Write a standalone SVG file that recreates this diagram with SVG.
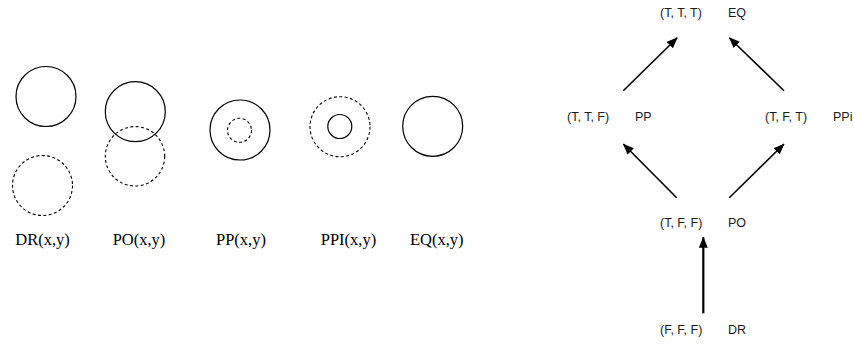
<svg xmlns="http://www.w3.org/2000/svg" width="854" height="345" viewBox="0 0 854 345">
  <style>
    .solid { fill: none; stroke: #000; stroke-width: 1.2; }
    .dash { fill: none; stroke: #000; stroke-width: 1.1; stroke-dasharray: 3 2.4; }
    .cap { font-family: "Liberation Serif", "Times New Roman", serif; font-size: 16.5px; fill: #000; text-anchor: middle; }
    .tup { font-family: "Liberation Sans", Arial, sans-serif; font-size: 12.5px; fill: #1a1a1a; }
    .edge { stroke: #000; stroke-width: 1.6; fill: none; marker-end: url(#head); }
    .edge.bold { stroke-width: 2.2; }
  </style>
  <defs>
    <marker id="head" markerUnits="userSpaceOnUse" markerWidth="11" markerHeight="9" refX="10.5" refY="4.5" orient="auto">
      <path d="M0,0 L11,4.5 L0,9 Z" fill="#000"/>
    </marker>
  </defs>

  <!-- Region relations: solid circle = x, dashed circle = y -->
  <g id="rel-dr">
    <circle class="solid" cx="46" cy="96.5" r="30"/>
    <circle class="dash" cx="42.5" cy="185.5" r="30"/>
    <text class="cap" x="42.5" y="245">DR(x,y)</text>
  </g>
  <g id="rel-po">
    <circle class="solid" cx="135.3" cy="111.7" r="30"/>
    <circle class="dash" cx="135" cy="156.3" r="29.7"/>
    <text class="cap" x="139" y="245">PO(x,y)</text>
  </g>
  <g id="rel-pp">
    <circle class="solid" cx="240" cy="130" r="30"/>
    <circle class="dash" cx="239.5" cy="130.3" r="12"/>
    <text class="cap" x="241" y="245">PP(x,y)</text>
  </g>
  <g id="rel-ppi">
    <circle class="dash" cx="340" cy="126.7" r="30"/>
    <circle class="solid" cx="339.8" cy="126.5" r="12"/>
    <text class="cap" x="348.5" y="245">PPI(x,y)</text>
  </g>
  <g id="rel-eq">
    <circle class="solid" cx="432.7" cy="126.3" r="30"/>
    <text class="cap" x="436.7" y="245">EQ(x,y)</text>
  </g>

  <!-- Lattice of truth-value triples -->
  <g id="node-eq">
    <text class="tup" x="660" y="17">(T, T, T)</text>
    <text class="tup" x="728" y="17">EQ</text>
  </g>
  <g id="node-pp">
    <text class="tup" x="567" y="121">(T, T, F)</text>
    <text class="tup" x="635" y="121">PP</text>
  </g>
  <g id="node-ppi">
    <text class="tup" x="765" y="121">(T, F, T)</text>
    <text class="tup" x="833" y="121">PPi</text>
  </g>
  <g id="node-po">
    <text class="tup" x="660" y="227">(T, F, F)</text>
    <text class="tup" x="728" y="227">PO</text>
  </g>
  <g id="node-dr">
    <text class="tup" x="660" y="334">(F, F, F)</text>
    <text class="tup" x="728" y="334">DR</text>
  </g>

  <g id="connectors">
    <line class="edge" x1="623.3" y1="90.7" x2="677.3" y2="37.7"/>
    <line class="edge" x1="784" y1="90.7" x2="729.3" y2="37.7"/>
    <line class="edge" x1="676.7" y1="197.7" x2="623.3" y2="144"/>
    <line class="edge" x1="729.3" y1="197.7" x2="784" y2="144"/>
    <line class="edge bold" x1="703.3" y1="313.3" x2="703.3" y2="237.3"/>
  </g>
</svg>
